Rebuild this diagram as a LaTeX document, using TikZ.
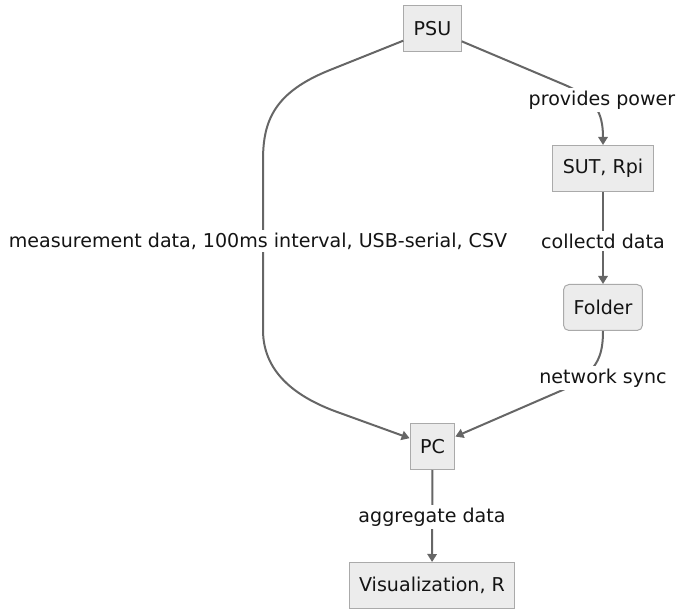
\documentclass[tikz,border=0pt]{standalone}
\usepackage{fontspec}
\setmainfont{DejaVu Sans}
\usepackage{tikz}
\usetikzlibrary{arrows.meta,positioning}
\definecolor{mmFill} {RGB}{236,236,236}
\definecolor{mmLine} {RGB}{170,170,170}
\definecolor{mmEdge} {RGB}{102,102,102}
\definecolor{mmText} {RGB}{ 20, 20, 20}

\begin{document}
\begin{tikzpicture}[
  x=0.75pt,y=-0.75pt,
  every node/.style={font=\fontsize{14.3}{16}\selectfont,text=mmText},
  box/.style={draw=mmLine,fill=mmFill,line width=0.75pt,
              minimum height=34.5pt,inner xsep=7.5pt},
  rbox/.style={box,rounded corners=4pt},
  lbl/.style={fill=white,inner sep=2pt},
  flow/.style={draw=mmEdge,line width=1.5pt,
               -{Triangle[length=6pt,width=7pt]}}
]
\useasboundingbox (0,0) rectangle (678,609);

% nodes
\node[box]  (PSU)    at (432.5, 29)   {PSU};
\node[box]  (SUT)    at (603, 168.5)  {SUT, Rpi};
\node[rbox] (Folder) at (603, 307.5)  {Folder};
\node[box]  (PC)     at (432.5,446.5) {PC};
\node[box]  (Vis)    at (432, 585.5)  {Visualization, R};

% edges
\draw[flow] (PSU) -- (330,70) .. controls (275,92) and (263,120) .. (263,160)
  -- (263,330) .. controls (263,375) and (300,399) .. (340,413) -- (PC);
\draw[flow] (PSU) -- (565,85) .. controls (595,98) and (603,112) .. (SUT.north);
\draw[flow] (SUT) -- (Folder);
\draw[flow] (Folder.south) .. controls (603,360) and (595,372) .. (565,389)
  -- (PC);
\draw[flow] (PC) -- (Vis);

% edge labels
\node[lbl] (lMeas)  at (258,241)  {measurement data, 100ms interval, USB-serial, CSV};
\node[lbl] (lPower) at (602,100)  {provides power};
\node[lbl] (lColl)  at (603,241)  {collectd data};
\node[lbl] (lSync)  at (603,378)  {network sync};
\node[lbl] (lAggr)  at (432,517)  {aggregate data};
\end{tikzpicture}
\end{document}
